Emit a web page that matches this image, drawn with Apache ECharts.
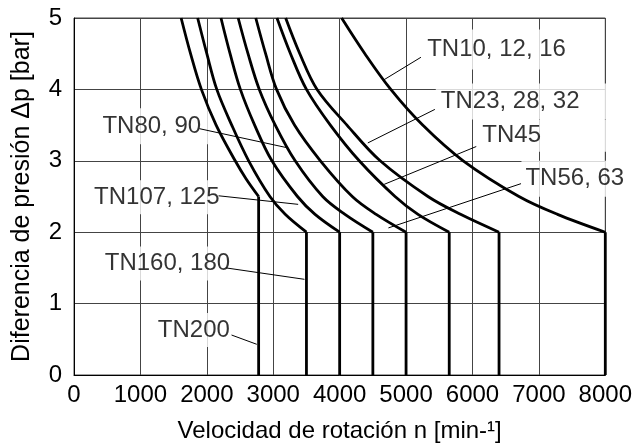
<!DOCTYPE html>
<html>
<head>
<meta charset="utf-8">
<script src="https://cdn.jsdelivr.net/npm/echarts@6/dist/echarts.min.js"></script>
<style>html,body{margin:0;padding:0;background:#fff}#c{width:635px;height:448px}</style>
</head>
<body>
<div id="c"></div>
<script>
// ---- data (x = speed min-1, y = pressure bar) ----
const tn200 = [[1613,5],[1755,4.5],[1918,4],[2140,3.5],[2427,3],[2590,2.75],[2780,2.5]];
const tn160 = [[1862,5],[2000,4.5],[2150,4],[2375,3.5],[2630,3],[2950,2.5],[3180,2.25],[3500,2]];
const tn107 = [[2213,5],[2350,4.5],[2505,4],[2720,3.5],[2980,3],[3365,2.5],[3630,2.25],[4000,2]];
const tn80  = [[2472,5],[2620,4.5],[2790,4],[3030,3.5],[3330,3],[3745,2.5],[4080,2.25],[4500,2]];
const tn56  = [[2737,5],[2885,4.5],[3050,4],[3320,3.5],[3710,3],[4190,2.5],[4550,2.25],[5000,2]];
const tn45  = [[3056,5],[3260,4.5],[3500,4],[3860,3.5],[4295,3],[4834,2.5],[5180,2.25],[5650,2]];
const tn23  = [[3187,5],[3400,4.5],[3660,4],[4110,3.5],[4610,3],[5330,2.5],[5820,2.25],[6400,2]];
const tn10  = [[4030,5],[4380,4.5],[4770,4],[5250,3.5],[5860,3],[6700,2.5],[7280,2.25],[8000,2]];

const labelTexts = ['TN10, 12, 16','TN23, 28, 32','TN45','TN56, 63','TN80, 90','TN107, 125','TN160, 180','TN200'];
// label anchor (data coords, left edge of white box / vertical centre) and leader lines (data coords)
const labelAnchors = [[5220,4.56],[5440,3.83],[6050,3.35],[6730,2.75],[330,3.485],[220,2.49],[380,1.56],[1180,0.63]];
const leaderStarts = [[5224,4.45],[5434,3.72],[6057,3.20],[6731,2.68],[1888,3.45],[2177,2.51],[2288,1.50],[2372,0.56]];
const leaderEnds   = [[4659,4.13],[4424,3.25],[4670,2.67],[4734,2.06],[3225,3.18],[3375,2.39],[3470,1.34],[2752,0.43]];
const labelPads    = [[8,12,8,6],[6,30,6,5],[4,70,4,6],[6,12,6,4],[6,12,6,6],[5,6,5,5],[5,6,5,5],[5,6,5,5]];

const xTicks = {min:0, max:8000, interval:1000};
const yTicks = {min:0, max:5, interval:1};
const xTitle = 'Velocidad de rotación n [min-¹]';
const yTitle = 'Diferencia de presión Δp [bar]';

const curves = [tn200, tn160, tn107, tn80, tn56, tn45, tn23, tn10];
const FONT = 'Liberation Sans, Arial, Helvetica, sans-serif';
const series = [];
labelTexts.forEach((t,i) => {
  series.push({type:'scatter', data:[labelAnchors[i]], symbolSize:1, itemStyle:{color:'rgba(0,0,0,0)'}, silent:true, z:1,
    label:{show:true, formatter:t, position:'right', distance:0, color:'#000', fontFamily:FONT, fontSize:24,
      backgroundColor:'#fff', padding:labelPads[i]}});
});
curves.forEach(pts => {
  series.push({type:'line', data:pts, smooth:0.35, symbol:'none', silent:true,
    lineStyle:{color:'#000', width:2.8}, z:3});
  const last = pts[pts.length-1];
  series.push({type:'line', data:[last,[last[0],0]], symbol:'none', silent:true,
    lineStyle:{color:'#000', width:2.8, cap:'butt'}, z:3});
});
leaderStarts.forEach((s,i) => {
  series.push({type:'line', data:[s, leaderEnds[i]], symbol:'none', silent:true,
    lineStyle:{color:'#000', width:1}, z:2});
});

const chart = echarts.init(document.getElementById('c'), null, {renderer:'canvas'});
chart.setOption({
  animation:false,
  backgroundColor:'#fff',
  grid:{left:74, right:27, top:18, bottom:66, show:true, borderColor:'#444', borderWidth:1, backgroundColor:'transparent'},
  xAxis:{type:'value', min:xTicks.min, max:xTicks.max, interval:xTicks.interval,
    name:xTitle, nameLocation:'middle', nameGap:44, nameTextStyle:{color:'#000', fontSize:24, fontFamily:FONT},
    axisLine:{show:true, lineStyle:{color:'#000', width:1}}, axisTick:{show:false},
    axisLabel:{color:'#000', fontSize:24, fontFamily:FONT, margin:8, formatter:v => String(v)},
    splitLine:{show:true, lineStyle:{color:'#444', width:1}}},
  yAxis:{type:'value', min:yTicks.min, max:yTicks.max, interval:yTicks.interval,
    name:yTitle, nameLocation:'middle', nameGap:39, nameTextStyle:{color:'#000', fontSize:25, fontFamily:FONT},
    axisLine:{show:true, lineStyle:{color:'#000', width:1}}, axisTick:{show:false},
    axisLabel:{color:'#000', fontSize:24, fontFamily:FONT, margin:12, formatter:v => String(v)},
    splitLine:{show:true, lineStyle:{color:'#444', width:1}}},
  series:series
});
</script>
</body>
</html>
